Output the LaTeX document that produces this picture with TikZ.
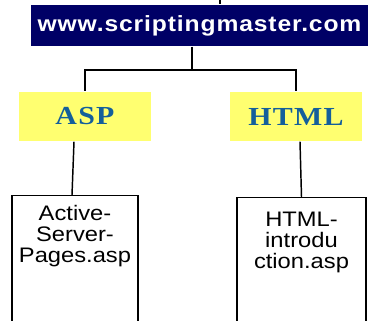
\documentclass[tikz,border=0pt]{standalone}
\usepackage{fontspec}
\usetikzlibrary{positioning}
\newfontfamily\urlfont[FakeStretch=1.12,LetterSpace=4]{Liberation Sans}
\newfontfamily\tabfont[FakeStretch=1.15,LetterSpace=5]{Liberation Serif}
\newfontfamily\pagefont[FakeStretch=1.13]{Liberation Sans}
\definecolor{sitenavy}{RGB}{0,0,102}
\definecolor{tabyellow}{RGB}{255,255,112}
\definecolor{tabblue}{RGB}{20,95,155}

\tikzset{every picture/.style={line width=1.1pt}}
\tikzset{
  sitebox/.style={fill=sitenavy, text=white, inner sep=0pt, minimum width=337*0.75pt, minimum height=41*0.75pt, font=\urlfont\bfseries\fontsize{16.5}{16.5}\selectfont},
  tabbox/.style={fill=tabyellow, text=tabblue, inner sep=0pt, minimum width=132*0.75pt, minimum height=49*0.75pt, font=\tabfont\bfseries\fontsize{19.5}{19.5}\selectfont},
  pagebox/.style={draw, anchor=north, inner sep=0pt, minimum width=126*0.75pt, minimum height=160*0.75pt},
  pagetext/.style={anchor=north, inner sep=0pt, align=center, font=\pagefont\fontsize{15.75}{15.75}\selectfont},
}

\begin{document}
\begin{tikzpicture}[x=0.75pt,y=0.75pt,yscale=-1,xscale=1]
				\clip (0,0) rectangle (371,321);
				% Site Node
				\node [sitebox] (site) at (199.5,25.5) {www.scriptingmaster.com};
				% Tab Nodes
				\node [tabbox] (asp) at (85,116.5) {ASP};
				\node [tabbox] (html) at (296,116.5) {HTML};
				% Page Nodes
				\node [pagebox] (aspPage) at (75,195) {};
				\node [pagebox, minimum width=129*0.75pt] (htmlPage) at (301.5,197) {};
				\node [pagetext, below=7.5pt of aspPage.north] (aspText) {Active-\\Server-\\Pages.asp};
				\node [pagetext, below=11pt of htmlPage.north] (htmlText) {HTML-\\introdu\\ction.asp};
				% Lines
				\coordinate (stub) at (220,0);
				\coordinate (fork) at (192,70);
				\draw (stub) -- (site.north -| stub);
				\draw (site.south -| fork) -- (fork) -| (asp.north);
				\draw (fork) -| (html.north);
				\draw ([xshift=-8.25pt]asp.south) -- ([xshift=-2.25pt]aspPage.north);
				\draw ([xshift=3pt]html.south) -- (htmlPage.north);
			\end{tikzpicture}
\end{document}
